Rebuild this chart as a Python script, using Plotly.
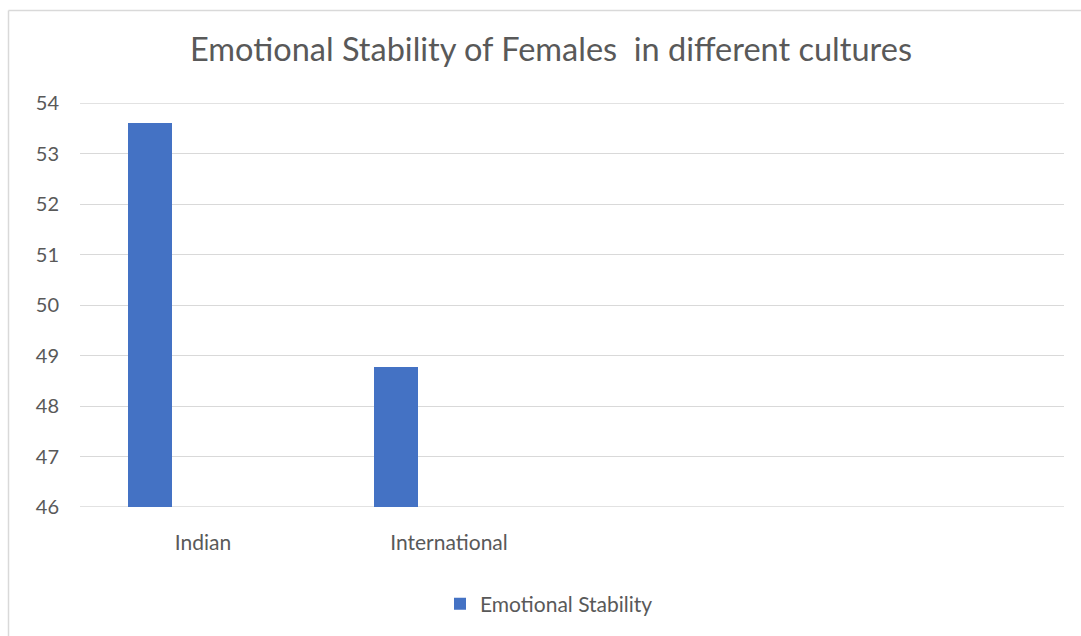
import plotly.graph_objects as go

categories = ["Indian", "International", " ", "  "]
values = [53.61, 48.77, None, None]
series_name = "Emotional Stability"
title_text = "Emotional Stability of Females  in different cultures"
y_ticks = [46, 47, 48, 49, 50, 51, 52, 53, 54]

W, H = 1081, 636
L, R, T, B = 80, 17, 103, 129
pw, ph = W - L - R, H - T - B

def px_x(x):
    return (x - L) / pw

def px_y(y):
    return (H - B - y) / ph

text_color = "#595959"
grid_color = "#D9D9D9"
font_family = "Lato, 'Open Sans', sans-serif"

fig = go.Figure()
fig.add_trace(go.Bar(
    x=categories, y=values, name=series_name,
    marker=dict(color="#4472C4", line=dict(width=0)),
    width=0.175, offset=-0.303,
    showlegend=True,
))

# edge gridlines (plotly omits grid lines lying on the plot-area edges)
edge_lines = [
    dict(type="line", xref="paper", yref="y", x0=0, x1=1, y0=v, y1=v,
         line=dict(color=grid_color, width=1.3), layer="below")
    for v in (y_ticks[0], y_ticks[-1])
]

fig.update_layout(
    width=W, height=H,
    margin=dict(l=L, r=R, t=T, b=B),
    paper_bgcolor="white", plot_bgcolor="white",
    font=dict(family=font_family, color=text_color, size=19),
    title=dict(text=title_text, x=551 / W, xref="container", xanchor="center",
               y=1 - 50 / H, yref="container", yanchor="middle",
               font=dict(size=32.5, color=text_color, family=font_family)),
    bargap=0,
    showlegend=True,
    legend=dict(orientation="h", x=px_x(440), xanchor="left",
                y=px_y(604), yanchor="middle",
                font=dict(size=21, color=text_color),
                bgcolor="rgba(0,0,0,0)"),
    xaxis=dict(type="category", categoryorder="array", categoryarray=categories,
               range=[-0.5, 3.5], showgrid=False, showline=False, zeroline=False,
               ticks="", tickfont=dict(size=21, color=text_color),
               ticklabelstandoff=21),
    yaxis=dict(range=[46, 54], tickvals=y_ticks, showgrid=True,
               gridcolor=grid_color, gridwidth=1.3, zeroline=False, showline=False,
               ticks="", tickfont=dict(size=20, color=text_color),
               ticklabelstandoff=20),
    shapes=edge_lines + [
        dict(type="line", xref="paper", yref="paper",
             x0=px_x(8.5), x1=px_x(8.5), y0=px_y(700), y1=px_y(10.5),
             line=dict(color=grid_color, width=1.5)),
        dict(type="line", xref="paper", yref="paper",
             x0=px_x(8.5), x1=px_x(1200), y0=px_y(10.5), y1=px_y(10.5),
             line=dict(color=grid_color, width=1.5)),
    ],
)

fig.write_html("out.html")
